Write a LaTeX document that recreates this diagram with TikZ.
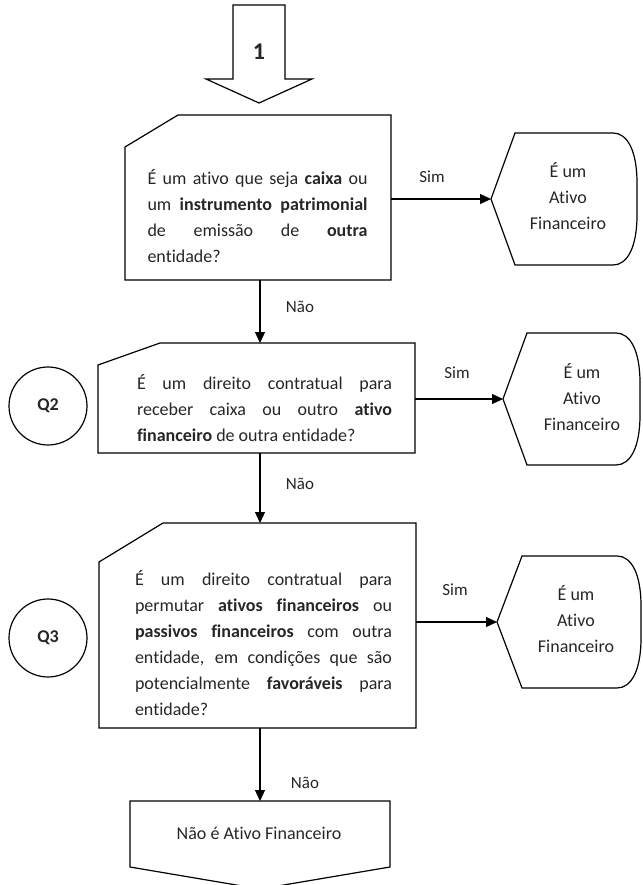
\documentclass[tikz,border=0pt]{standalone}
\usepackage{fontspec}
\setmainfont{Carlito}[Ligatures=NoCommon]
\usetikzlibrary{arrows.meta}
\begin{document}
\begin{tikzpicture}[x=1pt,y=-1pt,
  outline/.style={draw=black, line width=1.2pt, line join=miter},
  ph/.style={draw=none, inner sep=0pt, outer sep=0pt, rectangle},
  arr/.style={draw=black, line width=1.2pt, -{Triangle[length=11pt,width=10pt]}},
  lbl/.style={font=\fontsize{17}{20}\selectfont, text=black!85, inner sep=0pt},
  txt/.style={font=\fontsize{18}{26}\selectfont, align=left, inner sep=0pt, text=black!85},
  ctxt/.style={font=\fontsize{18}{26}\selectfont, align=center, inner sep=0pt, text=black!85},
  qcirc/.style={circle, draw=black, line width=1.2pt, minimum size=78pt, inner sep=0pt,
                font=\fontsize{18}{20}\selectfont\bfseries, text=black!85}]
\useasboundingbox (0,0) rectangle (642,885);

% placeholder nodes (geometry of the shapes)
\node[ph, minimum width=266pt, minimum height=165pt] (b1) at (258,197.5) {};
\node[ph, minimum width=317pt, minimum height=110pt] (b2) at (256.5,398) {};
\node[ph, minimum width=317pt, minimum height=205pt] (b3) at (257.5,625.5) {};
\node[ph, minimum width=260pt, minimum height=88pt] (b4) at (260,845) {};
\node[ph, minimum width=146pt, minimum height=132pt] (s1) at (564,199) {};
\node[ph, minimum width=137pt, minimum height=132pt] (s2) at (571.5,399) {};
\node[ph, minimum width=144pt, minimum height=132pt] (s3) at (569,622) {};
\coordinate (ax) at (260,0);

% top block arrow
\draw[outline] (233,5) -- (285,5) -- (285,79) -- (312,79) -- (259,103) -- (206,79) -- (233,79) -- cycle;
\node[font=\fontsize{24}{26}\selectfont\bfseries, text=black!85, inner sep=0pt] (one) at (259,52) {1};

% question boxes
\draw[outline] (178,115) -- (391,115) -- (391,280) -- (125,280) -- (125,147) -- cycle;
\draw[outline] (160,343) -- (415,343) -- (415,453) -- (98,453) -- (98,365) -- cycle;
\draw[outline] (163,523) -- (416,523) -- (416,728) -- (99,728) -- (99,562) -- cycle;
% bottom off-page shape
\draw[outline] (130,801) -- (390,801) -- (390,867) -- (260,889) -- (130,867) -- cycle;

% display shapes
\draw[outline] (491,199) -- (515,133) -- (613,133) .. controls (627,133) and (637,150) .. (637,183)
  -- (637,215) .. controls (637,248) and (627,265) .. (613,265) -- (515,265) -- cycle;
\draw[outline] (503,399) -- (527,333) -- (616,333) .. controls (630,333) and (640,350) .. (640,383)
  -- (640,415) .. controls (640,448) and (630,465) .. (616,465) -- (527,465) -- cycle;
\draw[outline] (497,622) -- (522,556) -- (617,556) .. controls (631,556) and (641,573) .. (641,606)
  -- (641,638) .. controls (641,671) and (631,688) .. (617,688) -- (522,688) -- cycle;

% circles
\node[qcirc] (q2) at (48,406) {Q2};
\node[qcirc] (q3) at (48,638) {Q3};

% texts
\node[txt] (t1) at (257.5,216) {%
\makebox[220pt][s]{É um ativo que seja \textbf{caixa} ou}\\
\makebox[220pt][s]{um \textbf{instrumento patrimonial}}\\
\makebox[220pt][s]{de emissão de \textbf{outra}}\\
entidade?};
\node[txt] (t2) at (264.5,408) {%
\makebox[255pt][s]{É um direito contratual para}\\
\makebox[255pt][s]{receber caixa ou outro \textbf{ativo}}\\
\textbf{financeiro} de outra entidade?};
\node[txt] (t3) at (263.5,643) {%
\makebox[257pt][s]{É um direito contratual para}\\
\makebox[257pt][s]{permutar \textbf{ativos financeiros} ou}\\
\makebox[257pt][s]{\textbf{passivos financeiros} com outra}\\
\makebox[257pt][s]{entidade, em condições que são}\\
\makebox[257pt][s]{potencialmente \textbf{favoráveis} para}\\
entidade?};
\node[ctxt] (r1) at (568,196) {É um\\Ativo\\Financeiro};
\node[ctxt] (r2) at (582,397) {É um\\Ativo\\Financeiro};
\node[ctxt] (r3) at (576,619) {É um\\Ativo\\Financeiro};
\node[ctxt] (t4) at (259,833) {Não é Ativo Financeiro};

% connectors
\draw[arr] (b1.south -| ax) -- (b2.north -| ax);
\draw[arr] (b2.south -| ax) -- (b3.north -| ax);
\draw[arr] (b3.south -| ax) -- (b4.north -| ax);
\draw[arr] (b1.east |- s1.west) -- (s1.west);
\draw[arr] (b2.east |- s2.west) -- (s2.west);
\draw[arr] (b3.east |- s3.west) -- (s3.west);

% labels
\node[lbl] (n1) at (300,307) {Não};
\node[lbl] (n2) at (300,484) {Não};
\node[lbl] (n3) at (305,783) {Não};
\node[lbl] (y1) at (432,177) {Sim};
\node[lbl] (y2) at (457,373) {Sim};
\node[lbl] (y3) at (455,590) {Sim};
\end{tikzpicture}
\end{document}
